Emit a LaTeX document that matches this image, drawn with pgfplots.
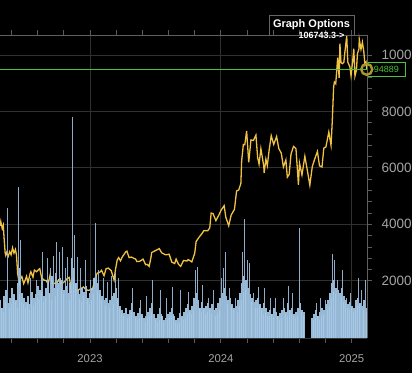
\documentclass[border=0pt]{standalone}
\usepackage{pgfplots}
\pgfplotsset{compat=1.18}
\usepackage{fontspec}
\setmainfont{Liberation Sans}
\definecolor{price}{HTML}{F0C244}
\definecolor{vol}{HTML}{A6CAE8}
\definecolor{spike}{HTML}{94B6D4}
\definecolor{gridc}{HTML}{303030}
\definecolor{tickc}{HTML}{A4A4A4}
\definecolor{lastc}{HTML}{4CC236}
\definecolor{ring}{HTML}{A8982E}
\begin{document}
\begin{tikzpicture}
\fill[black] (0,-35pt) rectangle (412pt,338pt);
\node[draw=gray!80!black, fill=black, text=white, line width=0.8pt, inner sep=0pt,
  minimum width=85pt, minimum height=20pt, font=\bfseries\fontsize{11}{13}\selectfont]
  at (311.5pt,313pt) {Graph Options};
\begin{axis}[
  at={(0,0)}, anchor=south west,
  scale only axis, width=367pt, height=303pt,
  xmin=2022.312, xmax=2025.117, ymin=-260, ymax=107050,
  clip=false,
  axis line style={draw=none},
  xtick={2023,2024,2025}, xticklabels={2023,2024,2025},
  minor xtick={2022.4,2022.6,2022.8,2023.2,2023.4,2023.6,2023.8,2024.2,2024.4,2024.6,2024.8},
  ytick={20000,40000,60000,80000,100000},
  yticklabels={20000,40000,60000,80000,100000},
  minor y tick num=4,
  yticklabel pos=right,
  scaled y ticks=false,
  tick align=outside,
  major tick length=5pt, minor tick length=5pt,
  tick style={draw=gray!70!black, line width=0.8pt},
  xmajorgrids, ymajorgrids,
  major grid style={draw=gridc, line width=0.8pt},
  ticklabel style={text=tickc},
  xticklabel style={yshift=-8pt, font=\fontsize{11.3}{13}\selectfont},
  yticklabel style={anchor=west, xshift=6pt, font=\fontsize{13.5}{15}\selectfont},
]
\addplot[price, line width=1.3pt] coordinates {
(2022.312,39500) (2022.318,41000) (2022.323,39700) (2022.329,38500) (2022.337,39700) (2022.342,36000)
(2022.351,30100) (2022.356,29000) (2022.364,30100) (2022.370,29200) (2022.375,28700) (2022.386,30300)
(2022.397,29200) (2022.408,31700) (2022.419,29800) (2022.430,31100) (2022.438,29100) (2022.447,22500)
(2022.460,19000) (2022.468,20700) (2022.479,21500) (2022.493,19000) (2022.504,20200) (2022.515,21600)
(2022.526,19300) (2022.542,22500) (2022.548,23200) (2022.564,21300) (2022.575,23800) (2022.592,23200)
(2022.605,23900) (2022.616,24300) (2022.630,21100) (2022.649,20200) (2022.666,20100) (2022.679,18800)
(2022.696,22300) (2022.701,20200) (2022.718,18900) (2022.734,19200) (2022.748,19300) (2022.759,20300)
(2022.778,19100) (2022.795,19300) (2022.814,20100) (2022.825,20800) (2022.841,21200) (2022.852,18500)
(2022.855,15900) (2022.866,16300) (2022.885,16300) (2022.904,16500) (2022.923,17100) (2022.951,17800)
(2022.967,16900) (2022.989,16600)
(2023.019,17100) (2023.030,18800) (2023.038,20900) (2023.055,22700) (2023.074,23000) (2023.088,23700)
(2023.107,21800) (2023.123,24300) (2023.140,24500) (2023.162,23600) (2023.184,20300) (2023.195,24100)
(2023.208,27400) (2023.219,28200) (2023.233,27100) (2023.247,28500) (2023.274,30300) (2023.282,30500)
(2023.299,28200) (2023.315,28400) (2023.329,28100) (2023.348,27700) (2023.359,26800) (2023.381,26900)
(2023.405,27700) (2023.425,25700) (2023.438,25800) (2023.452,25100) (2023.466,28300) (2023.471,30000)
(2023.496,30600) (2023.529,31400) (2023.548,29900) (2023.578,29200) (2023.605,29400) (2023.625,26600)
(2023.647,26100) (2023.658,27700) (2023.677,25800) (2023.693,25100) (2023.715,27200) (2023.740,27000)
(2023.751,27500) (2023.778,26700) (2023.800,29700) (2023.811,33900) (2023.833,35400) (2023.855,36700)
(2023.871,37800) (2023.899,37700) (2023.915,38700) (2023.926,44000) (2023.940,43800) (2023.962,41300)
(2023.986,43400)
(2024.002,45000) (2024.025,46600) (2024.038,42500) (2024.060,39500) (2024.079,43300) (2024.104,45300)
(2024.120,51800) (2024.137,52200) (2024.153,54500) (2024.159,62500) (2024.172,68300) (2024.183,68200)
(2024.197,73100) (2024.213,62000) (2024.230,69900) (2024.249,69700) (2024.268,71600) (2024.281,63700)
(2024.292,61300) (2024.306,66800) (2024.328,60600) (2024.331,58200) (2024.344,63100) (2024.355,60800)
(2024.369,66300) (2024.385,71400) (2024.404,68300) (2024.426,71100) (2024.443,66800) (2024.462,65200)
(2024.478,60300) (2024.497,62800) (2024.508,56700) (2024.522,57700) (2024.536,64800) (2024.555,67600)
(2024.574,66800) (2024.593,54000) (2024.601,61700) (2024.620,57500) (2024.642,64100) (2024.661,59100)
(2024.680,53900) (2024.699,60500) (2024.718,63200) (2024.738,65800) (2024.754,60700) (2024.773,60300)
(2024.787,67000) (2024.803,67400) (2024.825,72700) (2024.842,68000) (2024.851,76000) (2024.862,88700)
(2024.868,90400) (2024.878,89800) (2024.893,99000) (2024.904,91900) (2024.910,104000) (2024.918,97300)
(2024.929,96900) (2024.940,97400) (2024.948,101000) (2024.962,106743) (2024.970,97500) (2024.986,95800)
(2024.995,92600)
(2025.008,98100) (2025.016,102200) (2025.025,92500) (2025.036,94500) (2025.044,100500) (2025.055,102000)
(2025.058,105500) (2025.071,102000) (2025.082,104500) (2025.093,101000) (2025.101,96600) (2025.110,97400)
(2025.115,94889)
};
\addplot[lastc, line width=1pt] coordinates {(2022.312,94889) (2025.117,94889)};
\addplot[only marks, mark=o, mark size=5.5pt, mark options={draw=ring, line width=2.4pt}] coordinates {(2025.115,94889)};
\node[anchor=west, draw=lastc, fill=black, text=lastc, line width=0.8pt, inner sep=2pt,
  minimum width=38pt, minimum height=14pt, font=\fontsize{9}{10}\selectfont]
  at (axis cs:2025.117,94889) {94889};
\draw[gray!75!black, line width=0.8pt] (rel axis cs:0,1) -- (rel axis cs:1,1) -- (rel axis cs:1,0);
\draw[gray!40!black, line width=0.6pt] (rel axis cs:0,0) -- (rel axis cs:1,0);
\node[anchor=east, text=white, font=\bfseries\fontsize{9}{10}\selectfont, inner sep=0pt]
  at (axis cs:2024.945,106743) {106743.3->};
\end{axis}
\begin{axis}[
  at={(0,0)}, anchor=south west,
  scale only axis, width=367pt, height=303pt,
  xmin=0, xmax=367, ymin=0, ymax=303,
  hide axis,
]
\addplot[ycomb, vol, line width=1.3pt, opacity=0.92] coordinates {
(0,38) (2,30) (4,42) (6,48) (8,35) (10,40) (12,50) (14,44) (16,38) (18,55) (20,70) (22,45) (24,40) (26,36)
(28,42) (30,34) (32,46) (34,40) (36,44) (38,52) (40,48) (42,60) (44,42) (46,50) (48,58) (50,45) (52,62)
(54,50) (56,65) (58,55) (60,60) (62,58) (64,48) (66,52) (68,45) (70,55) (72,80) (74,70) (76,55) (78,48)
(80,44) (82,50) (84,46) (86,52) (88,40) (90,45) (92,50) (94,60) (96,62) (98,55) (100,48) (102,42) (104,38)
(106,40) (108,35) (110,38) (112,42) (114,45) (116,50) (118,40) (120,32) (122,28) (124,25) (126,30) (128,24)
(130,28) (132,35) (134,26) (136,22) (138,25) (140,30) (142,24) (144,20) (146,22) (148,26) (150,30) (152,35)
(154,24) (156,20) (158,24) (160,30) (162,22) (164,18) (166,20) (168,24) (170,26) (172,30) (174,22) (176,18)
(178,20) (180,25) (182,22) (184,26) (186,30) (188,34) (190,28) (192,32) (194,40) (196,45) (198,38) (200,30)
(202,36) (204,30) (206,32) (208,35) (210,30) (212,34) (214,28) (216,30) (218,35) (220,40) (222,45) (224,50)
(226,42) (228,38) (230,40) (232,34) (234,30) (236,32) (238,38) (240,45) (242,55) (244,62) (246,58) (248,50)
(250,44) (252,40) (254,36) (256,38) (258,40) (260,34) (262,30) (264,35) (266,30) (268,26) (270,28) (272,24)
(274,30) (276,26) (278,22) (280,25) (282,28) (284,30) (286,26) (288,35) (290,28) (292,30) (294,24) (296,26)
(298,30) (300,35) (302,28) (304,26) (312,20) (314,24) (316,28) (318,22) (320,26) (322,30) (324,28) (326,34)
(328,38) (330,45) (332,55) (334,58) (336,50) (338,48) (340,45) (342,50) (344,42) (346,38) (348,34) (350,36)
(352,32) (354,30) (356,38) (358,40) (360,35) (362,32) (364,38) (366,30)
};
\addplot[ycomb, vol, line width=0.8pt, opacity=0.9] coordinates {
(1,30) (3,26) (5,36) (9,30) (11,34) (13,40) (15,36) (17,30) (19,44) (21,36) (23,34) (25,30) (27,34)
(29,28) (31,38) (33,32) (35,36) (37,40) (39,38) (41,46) (43,36) (45,40) (49,44) (51,38) (55,42) (57,50)
(61,48) (63,44) (69,38) (71,44) (73,60) (75,54) (79,40) (81,36) (83,42) (87,40) (89,34) (91,38) (93,44)
(97,48) (99,44) (101,38) (105,32) (109,30) (113,34) (117,38) (119,30) (121,24) (123,22) (127,20) (129,22)
(131,26) (135,20) (137,18) (139,20) (141,22) (145,16) (147,20) (149,22) (151,26) (155,18) (157,16)
(159,18) (161,24) (163,16) (167,18) (169,20) (171,22) (173,24) (175,16) (177,15) (179,16) (181,20)
(183,18) (185,20) (187,24) (189,26) (191,24) (193,28) (199,30) (201,26) (203,28) (205,24) (207,26)
(209,28) (211,24) (215,22) (217,24) (219,28) (227,34) (231,32) (233,28) (237,26) (239,32) (241,38)
(243,46) (245,48) (251,36) (255,30) (257,30) (259,32) (261,28) (263,24) (265,26) (267,22) (269,22)
(271,24) (273,20) (277,22) (279,18) (281,20) (285,24) (287,22) (289,28) (291,24) (293,22) (295,20)
(297,22) (301,26) (303,22) (313,18) (315,20) (317,22) (319,18) (321,22) (323,24) (327,28) (329,32)
(331,40) (333,46) (335,44) (341,40) (343,36) (345,34) (347,30) (349,28) (351,30) (353,26) (355,28)
(357,32) (359,34) (363,28) (366,26)
};
\addplot[ycomb, spike, line width=1pt, opacity=0.95] coordinates {
(7,130) (18,151) (20,98) (30,60) (36,58) (42,86) (47,80) (50,70) (53,82) (56,96) (59,86) (62,91) (65,70)
(67,81) (72,221) (74,103) (77,81) (80,70) (85,78) (90,58) (95,115) (98,68) (103,60) (107,56) (111,62)
(115,65) (118,60) (132,50) (140,38) (146,42) (152,58) (160,48) (166,40) (172,51) (180,48) (188,46)
(195,68) (197,71) (202,53) (208,40) (213,48) (221,60) (223,70) (225,86) (229,50) (235,40) (242,86)
(244,119) (247,78) (249,75) (253,45) (258,51) (264,50) (270,40) (275,40) (283,40) (288,52) (292,45)
(299,110) (316,35) (320,40) (325,38) (332,84) (334,78) (337,58) (339,45) (342,68) (346,40) (350,45)
(358,60) (361,48) (365,58)
};
\end{axis}
\pgfresetboundingbox
\useasboundingbox (0,-35pt) rectangle (412pt,338pt);
\end{tikzpicture}
\end{document}
